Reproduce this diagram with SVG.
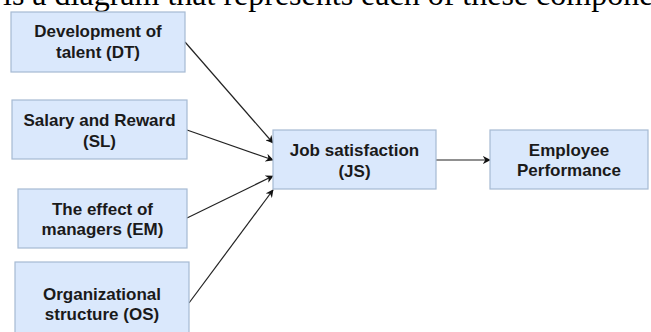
<svg xmlns="http://www.w3.org/2000/svg" width="651" height="332" viewBox="0 0 651 332">
<style>
.box{fill:#dae8fc;stroke:#a6b9d3;stroke-width:1.2}
.lbl{font-family:"Liberation Sans",Arial,sans-serif;font-weight:bold;font-size:17px;fill:#1a1a1a;text-anchor:middle}
.head{font-family:"Liberation Serif","Times New Roman",serif;font-size:32px;fill:#000}
.edge{stroke:#222;stroke-width:1.2;fill:none;marker-end:url(#arr)}
</style>
<defs>
<marker id="arr" viewBox="0 0 10 10" refX="9" refY="5" markerWidth="8" markerHeight="8" markerUnits="userSpaceOnUse" orient="auto">
<path d="M0,0 L10,5 L0,10 L3,5 z" fill="#111"/>
</marker>
</defs>
<rect width="651" height="332" fill="#fff"/>
<text class="head" x="3" y="5">is a diagram that represents each of these compone</text>
<g id="connectors">
<line class="edge" x1="185" y1="42" x2="273" y2="143"/>
<line class="edge" x1="187" y1="130" x2="273" y2="160"/>
<line class="edge" x1="187" y1="218" x2="273" y2="176"/>
<line class="edge" x1="189" y1="303" x2="273" y2="190"/>
<line class="edge" x1="436" y1="160" x2="490" y2="160"/>
</g>
<g id="DT">
<rect class="box" x="11" y="12" width="174" height="60"/>
<text class="lbl" x="98" y="37">Development of</text>
<text class="lbl" x="98" y="58">talent (DT)</text>
</g>
<g id="SL">
<rect class="box" x="12" y="100" width="175" height="59"/>
<text class="lbl" x="99.5" y="126">Salary and Reward</text>
<text class="lbl" x="99.5" y="147">(SL)</text>
</g>
<g id="EM">
<rect class="box" x="18" y="189" width="169" height="59"/>
<text class="lbl" x="102.5" y="215">The effect of</text>
<text class="lbl" x="102.5" y="235">managers (EM)</text>
</g>
<g id="OS">
<rect class="box" x="15" y="262" width="174" height="80"/>
<text class="lbl" x="102" y="300">Organizational</text>
<text class="lbl" x="102" y="320">structure (OS)</text>
</g>
<g id="JS">
<rect class="box" x="273" y="130" width="163" height="59"/>
<text class="lbl" x="354.5" y="156">Job satisfaction</text>
<text class="lbl" x="354.5" y="177">(JS)</text>
</g>
<g id="EP">
<rect class="box" x="490" y="130" width="158" height="59"/>
<text class="lbl" x="569" y="156">Employee</text>
<text class="lbl" x="569" y="176">Performance</text>
</g>
</svg>
